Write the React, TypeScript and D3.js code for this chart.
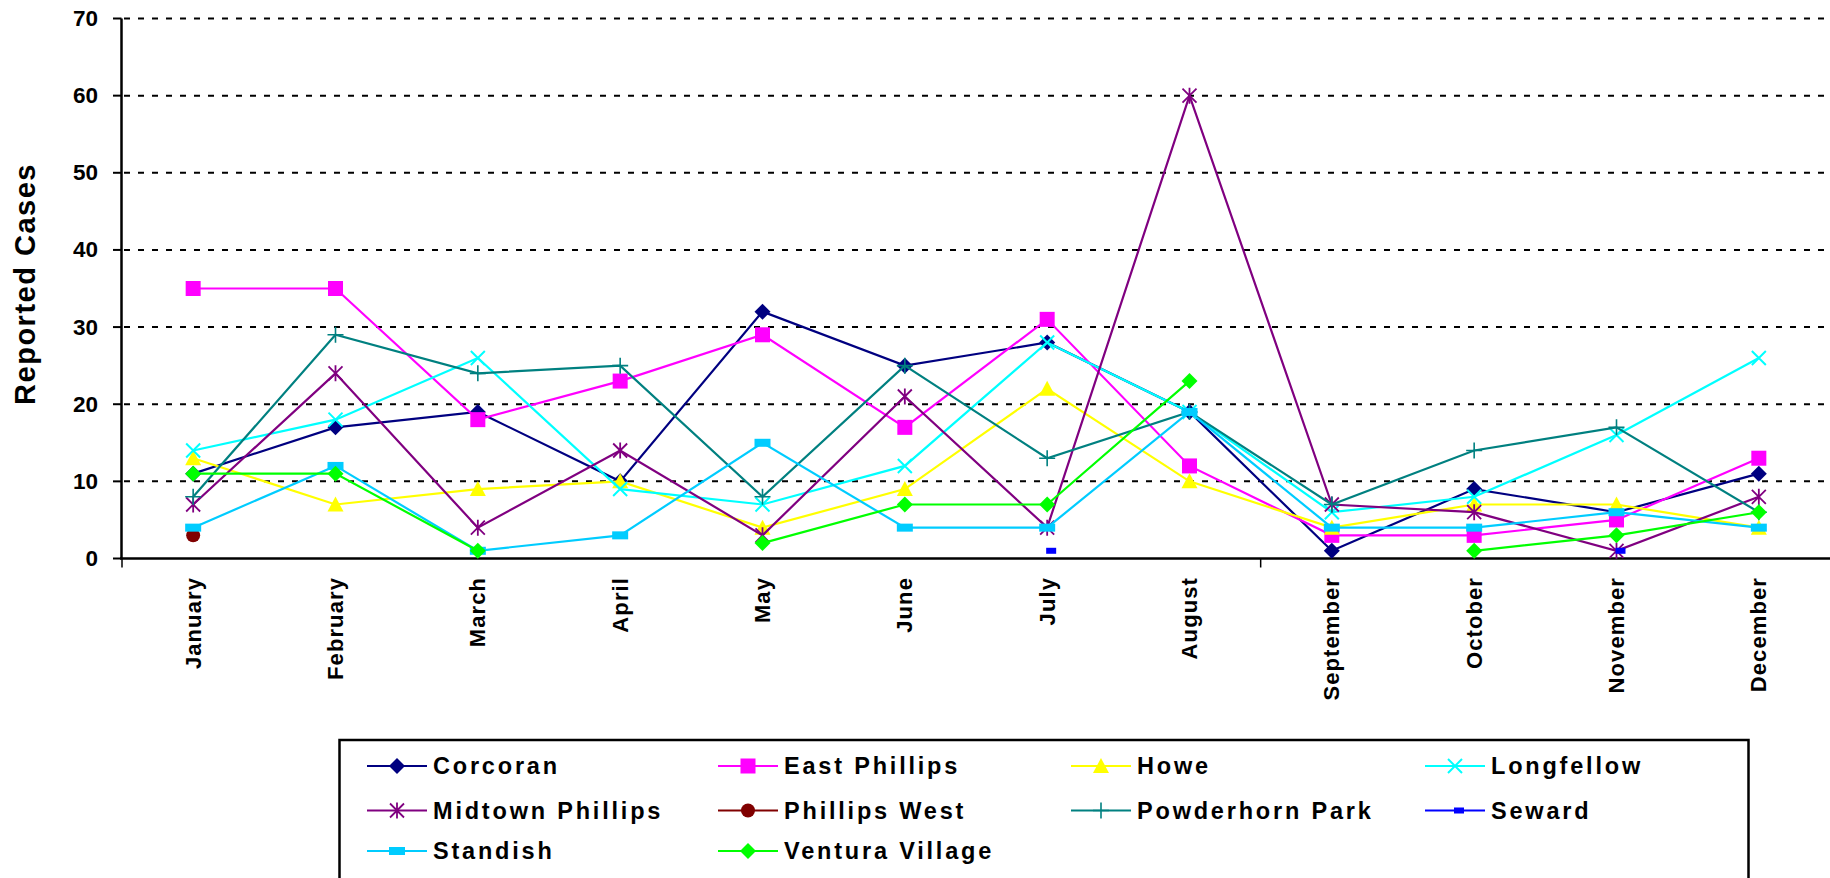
import React from "react";
import * as d3 from "d3";

const months = ["January","February","March","April","May","June","July","August","September","October","November","December"];
const yTicks = [0, 10, 20, 30, 40, 50, 60, 70];

const corcoran = [11,17,19,10,32,25,28,19,1,9,6,11];
const eastPhillips = [35,35,18,23,29,17,31,12,3,3,5,13];
const howe = [13,7,9,10,4,9,22,10,4,7,7,4];
const longfellow = [14,18,26,9,7,12,28,19,6,8,16,26];
const midtownPhillips = [7,24,4,14,3,21,4,60,7,6,1,8];
const phillipsWest = [3,null,null,null,null,null,null,null,null,null,null,null];
const powderhornPark = [8,29,24,25,8,25,13,19,7,14,17,6];
const seward = [null,null,null,null,null,null,1,null,null,null,1,null];
const standish = [4,12,1,3,15,4,4,19,4,4,6,4];
const venturaVillage = [11,11,1,null,2,7,7,23,null,1,3,6];

const seriesNames = ["Corcoran","East Phillips","Howe","Longfellow","Midtown Phillips","Phillips West","Powderhorn Park","Seward","Standish","Ventura Village"];
const seriesValues = [corcoran, eastPhillips, howe, longfellow, midtownPhillips, phillipsWest, powderhornPark, seward, standish, venturaVillage];
const seriesColors = ["#000080","#FF00FF","#FFFF00","#00FFFF","#800080","#800000","#008080","#0000FF","#00CCFF","#00FF00"];
const seriesMarkers = ["diamond","square","triangle","x","asterisk","circle","plus","dash","bar","diamond"];

const FONT = "'Liberation Sans', Arial, Helvetica, sans-serif";

function Marker({ type, color, x, y }: { type: string; color: string; x: number; y: number }) {
  const t = `translate(${x},${y})`;
  switch (type) {
    case "diamond":
      return <path transform={t} d="M0,-8L8,0L0,8L-8,0Z" fill={color} />;
    case "square":
      return <rect transform={t} x={-7.5} y={-7.5} width={15} height={15} fill={color} />;
    case "triangle":
      return <path transform={t} d="M0,-8L8,7L-8,7Z" fill={color} />;
    case "x":
      return <path transform={t} d="M-7,-7L7,7M-7,7L7,-7" stroke={color} strokeWidth={2} fill="none" />;
    case "asterisk":
      return <path transform={t} d="M-7,-7L7,7M-7,7L7,-7M0,-8L0,8" stroke={color} strokeWidth={1.8} fill="none" />;
    case "circle":
      return <circle transform={t} r={7} fill={color} />;
    case "plus":
      return <path transform={t} d="M-8,0L8,0M0,-8L0,8" stroke={color} strokeWidth={1.6} fill="none" />;
    case "dash":
      return <rect transform={t} x={-1} y={-3} width={10} height={6} fill={color} />;
    case "bar":
      return <rect transform={t} x={-8} y={-4} width={16} height={8} fill={color} />;
    default:
      return null;
  }
}

export default function App() {
  const W = 1830, H = 878;
  const x = d3.scalePoint<string>().domain(months).range([122, 1830]).padding(0.5);
  const y = d3.scaleLinear().domain([0, 70]).range([558.5, 18.5]);
  const line = d3.line<number | null>()
    .defined((d) => d != null)
    .x((_, i) => x(months[i]) as number)
    .y((d) => y(d as number));

  const bandW = x.step();
  const xTickIdx = [0, 8];

  const legendCols = [367, 718, 1071, 1425];
  const legendRows = [766, 810.5, 851];

  return (
    <svg width={W} height={H} style={{ position: "absolute", left: 0, top: 0, background: "#fff" }} fontFamily={FONT}>
      {yTicks.filter((t) => t > 0).map((t) => (
        <line key={t} x1={124} x2={1830} y1={y(t)} y2={y(t)} stroke="#000" strokeWidth={2} strokeDasharray="6,8" />
      ))}
      <line x1={121.5} x2={121.5} y1={y(70)} y2={y(0)} stroke="#000" strokeWidth={2.5} />
      {yTicks.map((t) => (
        <g key={t}>
          <line x1={113} x2={121.5} y1={y(t)} y2={y(t)} stroke="#000" strokeWidth={2} />
          <text x={98} y={y(t)} textAnchor="end" dominantBaseline="central" fontSize={22.5} fontWeight="bold">{t}</text>
        </g>
      ))}
      <line x1={120} x2={1830} y1={y(0)} y2={y(0)} stroke="#000" strokeWidth={2.5} />
      {xTickIdx.map((i) => {
        const xx = (x(months[i]) as number) - bandW / 2;
        return <line key={i} x1={xx} x2={xx} y1={y(0)} y2={y(0) + 9} stroke="#000" strokeWidth={1.5} />;
      })}
      {months.map((m) => (
        <text key={m} transform={`translate(${x(m)},577) rotate(-90)`} textAnchor="end" dominantBaseline="central" fontSize={22} fontWeight="bold" letterSpacing={1.1}>{m}</text>
      ))}
      <text transform="translate(25,284) rotate(-90)" textAnchor="middle" dominantBaseline="central" fontSize={29} fontWeight="bold" letterSpacing={1.5}>Reported Cases</text>

      {seriesValues.map((vals, si) => (
        <g key={seriesNames[si]}>
          <path d={line(vals) || ""} fill="none" stroke={seriesColors[si]} strokeWidth={2.2} />
          {vals.map((v, i) => v == null ? null : (
            <Marker key={i} type={seriesMarkers[si]} color={seriesColors[si]} x={x(months[i]) as number} y={y(v)} />
          ))}
        </g>
      ))}

      <rect x={339.5} y={740} width={1409} height={145} fill="#fff" stroke="#000" strokeWidth={2.5} />
      {seriesNames.map((name, i) => {
        const cx = legendCols[i % 4];
        const cy = legendRows[Math.floor(i / 4)];
        return (
          <g key={name}>
            <line x1={cx} x2={cx + 60} y1={cy} y2={cy} stroke={seriesColors[i]} strokeWidth={2.2} />
            <Marker type={seriesMarkers[i]} color={seriesColors[i]} x={cx + 30} y={cy} />
            <text x={cx + 66} y={cy} dominantBaseline="central" fontSize={23.5} fontWeight="bold" letterSpacing={2.8}>{name}</text>
          </g>
        );
      })}
    </svg>
  );
}
